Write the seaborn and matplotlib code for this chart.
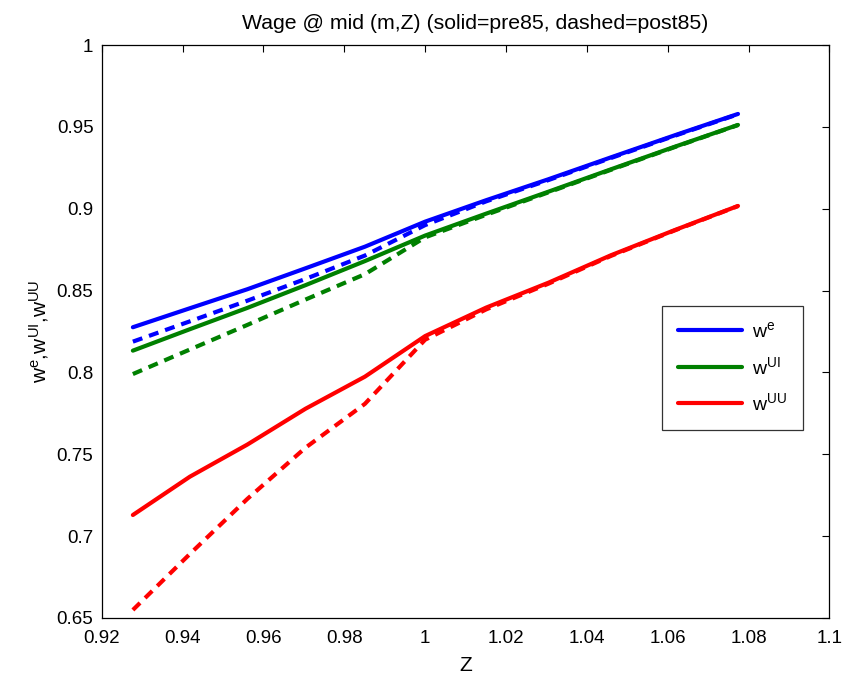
import matplotlib
matplotlib.use("Agg")
import matplotlib.pyplot as plt
from matplotlib.lines import Line2D
import numpy as np
import pandas as pd
import seaborn as sns

# Productivity grid
Z = [0.9277, 0.9418, 0.9560, 0.9704, 0.9851, 1.0000, 1.0151, 1.0305, 1.0460, 1.0618, 1.0774]

# Wages at mid m (pre85 = solid, post85 = dashed)
we_pre = [0.8276, 0.8392, 0.8508, 0.8636, 0.8768, 0.8921, 0.9052, 0.9180, 0.9314, 0.9449, 0.9579]
we_post = [0.8188, 0.8312, 0.8438, 0.8571, 0.8714, 0.8900, 0.9045, 0.9175, 0.9310, 0.9446, 0.9577]
wui_pre = [0.8133, 0.8264, 0.8394, 0.8533, 0.8680, 0.8836, 0.8970, 0.9104, 0.9241, 0.9379, 0.9512]
wui_post = [0.7990, 0.8140, 0.8290, 0.8445, 0.8600, 0.8825, 0.8963, 0.9100, 0.9238, 0.9377, 0.9511]
wuu_pre = [0.7129, 0.7363, 0.7559, 0.7778, 0.7974, 0.8222, 0.8396, 0.8548, 0.8716, 0.8870, 0.9017]
wuu_post = [0.6549, 0.6891, 0.7227, 0.7540, 0.7808, 0.8200, 0.8385, 0.8542, 0.8712, 0.8868, 0.9016]

series = ["we", "wui", "wuu"]
labels = [r"w$^{e}$", r"w$^{UI}$", r"w$^{UU}$"]
colors = {"we": (0, 0, 1), "wui": (0, 0.5, 0), "wuu": (1, 0, 0)}

rows = []
for name, pre, post in [("we", we_pre, we_post), ("wui", wui_pre, wui_post), ("wuu", wuu_pre, wuu_post)]:
    for z, v in zip(Z, pre):
        rows.append((z, v, name, "pre85"))
    for z, v in zip(Z, post):
        rows.append((z, v, name, "post85"))
df = pd.DataFrame(rows, columns=["Z", "wage", "series", "period"])

sns.set_style("white")
plt.rcParams["font.family"] = ["Liberation Sans", "DejaVu Sans"]
plt.rcParams["mathtext.default"] = "regular"
plt.rcParams["text.color"] = "black"
plt.rcParams["axes.labelcolor"] = "black"
plt.rcParams["xtick.color"] = "black"
plt.rcParams["ytick.color"] = "black"

fig = plt.figure(figsize=(8.48, 6.77), dpi=100)
ax = fig.add_axes([0.120, 0.0872, 0.858, 0.8463])

sns.lineplot(
    data=df, x="Z", y="wage", hue="series", style="period",
    palette=colors, dashes={"pre85": "", "post85": (2.4, 1.7)},
    hue_order=series, style_order=["pre85", "post85"],
    linewidth=3, legend=False, sort=False, estimator=None, ax=ax,
)

ax.set_xlim(0.92, 1.1)
ax.set_ylim(0.65, 1.0)
ax.set_xticks(np.arange(0.92, 1.1001, 0.02))
ax.set_xticklabels(["0.92", "0.94", "0.96", "0.98", "1", "1.02", "1.04", "1.06", "1.08", "1.1"])
ax.set_yticks(np.arange(0.65, 1.0001, 0.05))
ax.set_yticklabels(["0.65", "0.7", "0.75", "0.8", "0.85", "0.9", "0.95", "1"])
ax.tick_params(direction="in", length=5, width=0.8, labelsize=13.5, color="black",
               labelcolor="black", top=True, right=True, pad=6)
ax.tick_params(axis="x", pad=9)
for s in ax.spines.values():
    s.set_visible(True)
    s.set_color("black")
    s.set_linewidth(0.9)

title = ax.set_title("Wage @ mid (m,Z) (solid=pre85, dashed=post85)", fontsize=15.3,
                     pad=11.5, color="black")
title.set_x(0.513)
ax.set_xlabel("Z", fontsize=15, labelpad=6)
ax.set_ylabel(r"w$^{e}$,w$^{UI}$,w$^{UU}$", fontsize=15, labelpad=4)

handles = [Line2D([0], [0], color=colors[s], lw=3) for s in series]
leg = ax.legend(handles, labels, loc="upper left", bbox_to_anchor=(0.770, 0.545),
                borderaxespad=0, fontsize=14, frameon=True, fancybox=False, edgecolor="black",
                handlelength=3.3, labelspacing=0.75, borderpad=0.8, handletextpad=0.55)
leg.get_frame().set_linewidth(0.9)
for t in leg.get_texts():
    t.set_color("black")

fig.savefig("out.png", dpi=100)
